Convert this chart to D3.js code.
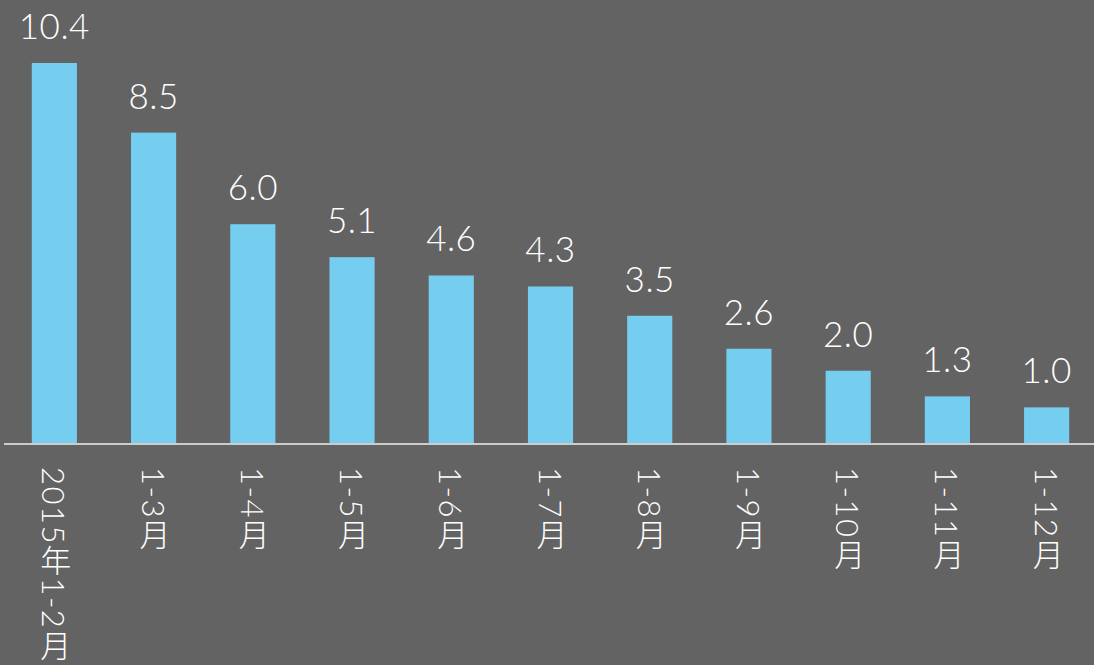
<!DOCTYPE html>
<html><head><meta charset="utf-8">
<script src="https://cdn.jsdelivr.net/npm/d3@7"></script>
<style>
html,body{margin:0;padding:0;background:#636363;}
svg{display:block;}
</style></head>
<body>
<script>
const categories = ["2015年1-2月","1-3月","1-4月","1-5月","1-6月","1-7月","1-8月","1-9月","1-10月","1-11月","1-12月"];
const values = [10.4, 8.5, 6.0, 5.1, 4.6, 4.3, 3.5, 2.6, 2.0, 1.3, 1.0];
const valueLabels = ["10.4","8.5","6.0","5.1","4.6","4.3","3.5","2.6","2.0","1.3","1.0"];

const W = 1094, H = 665;
const svg = d3.select("body").append("svg").attr("width", W).attr("height", H);
svg.append("rect").attr("width", W).attr("height", H).attr("fill", "#636363");

const baseY = 444;
const x = d3.scaleBand().domain(categories).range([5, 1096]).paddingInner(0.545).paddingOuter(0.27);
const y = d3.scaleLinear().domain([0, 10.4]).range([baseY, 63]);

svg.selectAll("rect.bar").data(values).join("rect")
  .attr("class","bar")
  .attr("x", (d,i) => x(categories[i]))
  .attr("width", x.bandwidth())
  .attr("y", d => y(d))
  .attr("height", d => baseY - y(d))
  .attr("fill", "#75cdef");

svg.selectAll("text.val").data(values).join("text")
  .attr("class","val")
  .attr("x", (d,i) => x(categories[i]) + x.bandwidth()/2)
  .attr("y", d => y(d) - 24)
  .attr("text-anchor","middle")
  .attr("fill","#ffffff")
  .style("font-family","Lato, 'Noto Sans', sans-serif")
  .style("font-weight","300")
  .style("font-size","35px")
  .style("letter-spacing","0.5px")
  .text((d,i) => valueLabels[i]);

const axis = d3.axisBottom(x).tickSize(0).tickPadding(0);
const g = svg.append("g").attr("transform", `translate(0,${baseY})`).call(axis);
g.select(".domain").attr("d", `M4,0H${W}`).attr("stroke","#cccccc").attr("stroke-width",2);
g.selectAll(".tick text")
  .attr("y", 0).attr("dy", null)
  .attr("transform", "translate(0,23)")
  .attr("text-anchor","start")
  .attr("fill","#ffffff")
  .style("writing-mode","vertical-rl")
  .style("font-family","Lato, 'Noto Sans CJK JP', sans-serif")
  .style("font-weight","300")
  .style("font-size","31px")
  .style("letter-spacing","1.5px");
</script>
</body></html>
